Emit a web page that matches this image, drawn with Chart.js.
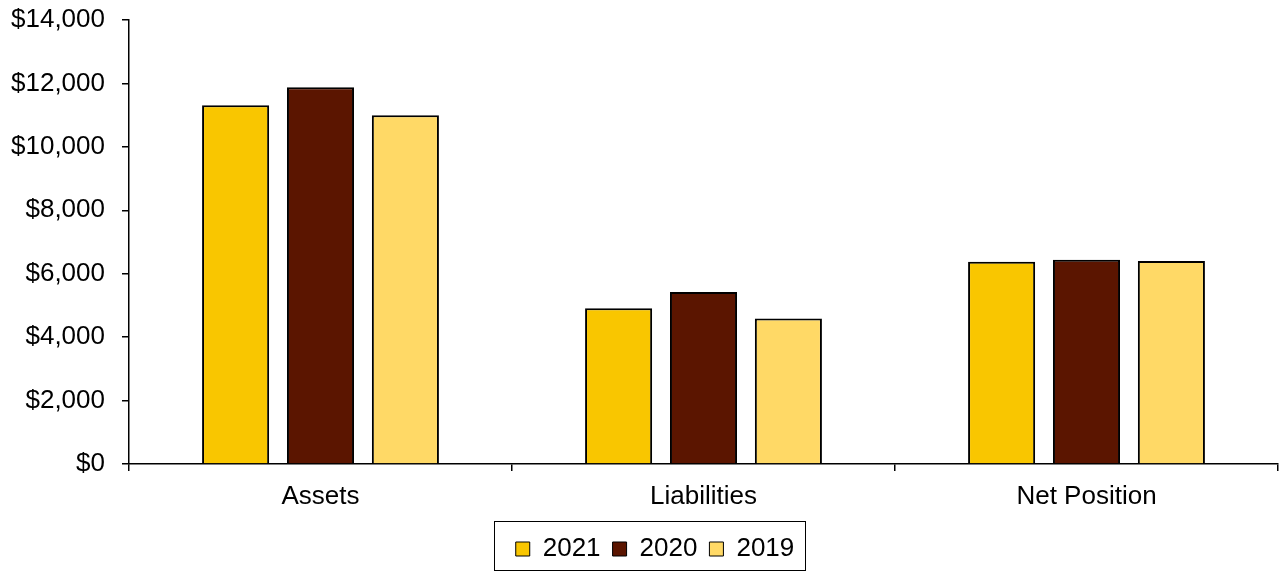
<!DOCTYPE html>
<html>
<head>
<meta charset="utf-8">
<script src="https://cdn.jsdelivr.net/npm/chart.js@4"></script>
<style>
  html, body { margin: 0; padding: 0; background: #fff; }
  #wrap { width: 1281px; height: 572px; position: relative; }
</style>
</head>
<body>
<div id="wrap"><canvas id="positionChart"></canvas></div>
<script>
// values in thousands of dollars
const categories = ['Assets', 'Liabilities', 'Net Position'];
const years = ['2021', '2020', '2019'];
const values2021 = [11310, 4910, 6380];
const values2020 = [11880, 5420, 6440];
const values2019 = [11000, 4590, 6400];
const yTicks = [0, 2000, 4000, 6000, 8000, 10000, 12000, 14000];

const colors = ['#F9C600', '#5B1500', '#FFD966'];
const series = [values2021, values2020, values2019];
const FONT = 'Liberation Sans, Arial, sans-serif';
const LEGEND_SHIFT = 16;

// nudge legend right a bit and put a box round it
const legendFrame = {
    id: 'legendFrame',
    afterLayout(chart) {
        const lg = chart.legend;
        lg.left += LEGEND_SHIFT;
        lg.right += LEGEND_SHIFT;
        if (lg.adjustHitBoxes) lg.adjustHitBoxes();
    },
    afterDraw(chart) {
        const boxes = chart.legend.legendHitBoxes;
        if (!boxes || !boxes.length) return;
        const first = boxes[0];
        const last = boxes[boxes.length - 1];
        const ctx = chart.ctx;
        ctx.save();
        ctx.strokeStyle = '#000';
        ctx.lineWidth = 1;
        const x1 = Math.round(first.left) - 21.5;
        const x2 = Math.round(last.left + last.width) + 11.5;
        ctx.strokeRect(x1, 521.5, x2 - x1, 49);
        ctx.restore();
    }
};

const ctx = document.getElementById('positionChart').getContext('2d');
new Chart(ctx, {
    type: 'bar',
    data: {
        labels: categories,
        datasets: years.map((y, i) => ({
            label: y,
            data: series[i],
            backgroundColor: colors[i],
            borderColor: '#000',
            borderWidth: 2,
            categoryPercentage: 0.665,
            barPercentage: 0.79
        }))
    },
    options: {
        responsive: true,
        maintainAspectRatio: false,
        animation: false,
        layout: { padding: { top: 0, right: 3, left: 0, bottom: 0 } },
        plugins: {
            tooltip: { enabled: false },
            legend: {
                position: 'bottom',
                labels: {
                    color: '#000',
                    font: { family: FONT, size: 26 },
                    boxWidth: 14,
                    boxHeight: 14,
                    padding: 12,
                    generateLabels(chart) {
                        return chart.data.datasets.map((ds, i) => ({
                            text: ds.label,
                            fillStyle: ds.backgroundColor,
                            strokeStyle: '#000',
                            lineWidth: 1,
                            fontColor: '#000',
                            datasetIndex: i
                        }));
                    }
                }
            }
        },
        scales: {
            x: {
                offset: true,
                grid: {
                    offset: true,
                    drawOnChartArea: false,
                    drawTicks: true,
                    tickLength: 7,
                    color: '#000',
                    lineWidth: 1.5
                },
                border: { color: '#000', width: 1.5 },
                ticks: {
                    color: '#000',
                    padding: 10,
                    font: { family: FONT, size: 26 }
                },
                afterFit(scale) { scale.height = 60; }
            },
            y: {
                min: 0,
                max: 14000,
                afterBuildTicks(scale) {
                    scale.ticks = yTicks.map(v => ({ value: v }));
                },
                grid: {
                    drawOnChartArea: false,
                    drawTicks: true,
                    tickLength: 7,
                    color: '#000',
                    lineWidth: 1.5
                },
                border: { color: '#000', width: 1.5 },
                ticks: {
                    color: '#000',
                    padding: 17,
                    font: { family: FONT, size: 26 },
                    callback: v => '$' + v.toLocaleString('en-US')
                },
                afterFit(scale) {
                    scale.width = 129;
                    scale.paddingTop = 20;
                    scale.paddingBottom = 0;
                }
            }
        }
    },
    plugins: [legendFrame]
});
</script>
</body>
</html>
